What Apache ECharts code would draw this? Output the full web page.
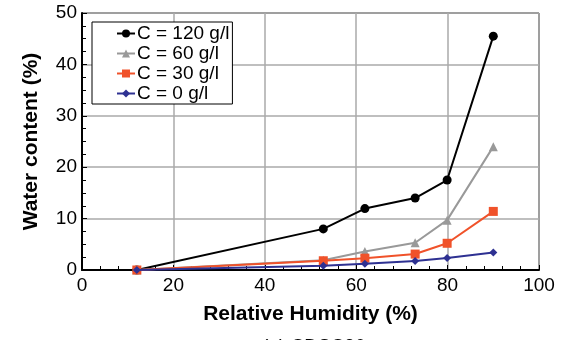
<!DOCTYPE html>
<html>
<head>
<meta charset="utf-8">
<script src="https://cdn.jsdelivr.net/npm/echarts@6/dist/echarts.min.js"></script>
<style>
  html, body { margin: 0; padding: 0; background: #fff; }
  #chart { width: 571px; height: 340px; }
</style>
</head>
<body>
<div id="chart"></div>
<script>
// relative humidity (%) and water content (%) per concentration
var humidity = [12, 52.8, 61.9, 72.9, 79.9, 90];
var c120 = [0, 8.0, 11.95, 14.0, 17.5, 45.5];
var c60 = [0, 1.9, 3.6, 5.3, 9.7, 24.0];
var c30 = [0, 1.8, 2.3, 3.1, 5.2, 11.4];
var c0 = [0, 0.85, 1.2, 1.75, 2.35, 3.4];
var seriesNames = ['C = 120 g/l', 'C = 60 g/l', 'C = 30 g/l', 'C = 0 g/l'];
var seriesColors = ['#000000', '#999999', '#f0522a', '#2e3192'];
var seriesSymbols = ['circle', 'triangle', 'rect', 'diamond'];
var seriesSizes = [9, 9, 9, 8];

var mychart = echarts.init(document.getElementById('chart'));

function pairs(vals) {
    return humidity.map(function (h, i) { return [h, vals[i]]; });
}

var allValues = [c120, c60, c30, c0];
var series = allValues.map(function (vals, i) {
    return {
        name: seriesNames[i],
        type: 'line',
        data: pairs(vals),
        symbol: seriesSymbols[i],
        symbolSize: seriesSizes[i],
        showAllSymbol: true,
        lineStyle: { color: seriesColors[i], width: 2 },
        itemStyle: { color: seriesColors[i] },
        z: 2 + i
    };
});

mychart.setOption({
    animation: false,
    textStyle: { fontFamily: 'Liberation Sans, Arial, sans-serif' },
    grid: {
        left: 82, right: 32, top: 13, bottom: 70,
        show: true, borderColor: '#000', borderWidth: 1
    },
    legend: {
        orient: 'vertical',
        left: 92, top: 22,
        padding: [2, 3, 1, 24],
        itemGap: 1,
        itemWidth: 18,
        itemHeight: 10,
        backgroundColor: '#fff',
        borderColor: '#000',
        borderWidth: 1,
        borderRadius: 0,
        textStyle: { fontSize: 19, color: '#000', padding: [0, 0, 0, -3] },
        data: seriesNames
    },
    xAxis: {
        type: 'value',
        min: 0, max: 100, interval: 20,
        name: 'Relative Humidity (%)',
        nameLocation: 'middle',
        nameGap: 34,
        nameTextStyle: { fontSize: 21, fontWeight: 'bold', color: '#000' },
        axisLine: { lineStyle: { color: '#000', width: 2 } },
        axisTick: { inside: true, length: 5, lineStyle: { color: '#000' } },
        minorTick: { show: true, splitNumber: 5, length: 4, lineStyle: { color: '#000' } },
        axisLabel: { fontSize: 19, color: '#000', margin: 6 },
        splitLine: { show: true, lineStyle: { color: '#aaaaaa', width: 1.5 } }
    },
    yAxis: {
        type: 'value',
        min: 0, max: 50, interval: 10,
        name: 'Water content (%)',
        nameLocation: 'middle',
        nameGap: 40,
        nameTextStyle: { fontSize: 21, fontWeight: 'bold', color: '#000' },
        axisLine: { show: true, lineStyle: { color: '#000', width: 2 } },
        axisTick: { show: true, inside: true, length: 5, lineStyle: { color: '#000' } },
        minorTick: { show: true, splitNumber: 4, length: 4, lineStyle: { color: '#000' } },
        axisLabel: { fontSize: 19, color: '#000', margin: 5 },
        splitLine: { show: true, lineStyle: { color: '#aaaaaa', width: 1.5 } }
    },
    graphic: [{
        type: 'text',
        left: 262, top: 337,
        style: { text: '(a) CDSC30', fontSize: 19, fill: '#000', fontFamily: 'Liberation Sans, Arial, sans-serif' }
    }],
    series: series
});
</script>
</body>
</html>
